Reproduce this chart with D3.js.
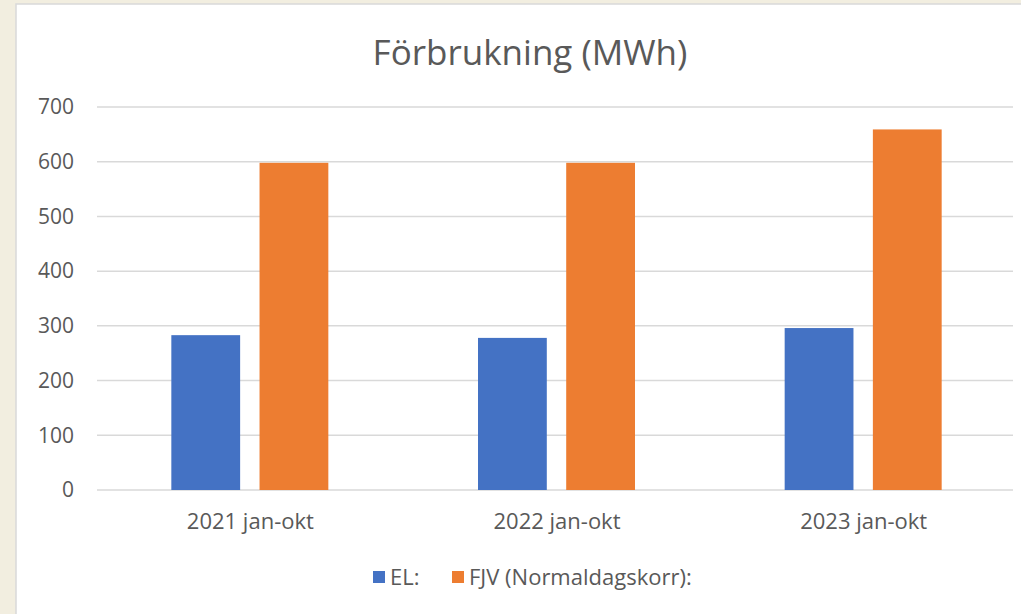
<!DOCTYPE html>
<html>
<head>
<meta charset="utf-8">
<script src="https://cdn.jsdelivr.net/npm/d3@7/dist/d3.min.js"></script>
<style>
  body { margin: 0; background: #f2eee0; }
  svg text { font-family: "Open Sans", "Noto Sans", sans-serif; fill: #595959; }
</style>
</head>
<body>
<svg id="chart" width="1021" height="614"></svg>
<script>
// data
var categories = ["2021 jan-okt", "2022 jan-okt", "2023 jan-okt"];
var seriesNames = ["EL:", "FJV (Normaldagskorr):"];
var elValues = [283, 278, 296];
var fjvValues = [598, 598, 659];
var yTicks = [0, 100, 200, 300, 400, 500, 600, 700];
var colors = ["#4472c4", "#ed7d31"];

var svg = d3.select("#chart");

// chart panel
svg.append("rect")
    .attr("x", 16).attr("y", 4)
    .attr("width", 1010).attr("height", 620)
    .attr("fill", "#fff")
    .attr("stroke", "#d9d9d9")
    .attr("stroke-width", 1.5);

var margin = { left: 97, right: 1017, top: 107, bottom: 490 };

var x = d3.scaleBand()
    .domain(categories)
    .range([margin.left, margin.right]);

var y = d3.scaleLinear()
    .domain([0, 700])
    .range([margin.bottom, margin.top]);

var x1 = d3.scaleBand()
    .domain([0, 1])
    .range([0, 157])
    .paddingInner(0.22);

// gridlines
svg.append("g")
    .selectAll("line")
    .data(yTicks)
    .enter().append("line")
      .attr("x1", margin.left)
      .attr("x2", margin.right - 4)
      .attr("y1", function(d) { return y(d); })
      .attr("y2", function(d) { return y(d); })
      .attr("stroke", "#d9d9d9")
      .attr("stroke-width", 1.5);

// y axis labels
var yAxis = d3.axisLeft(y).tickValues(yTicks).tickSize(0).tickPadding(0);
var gy = svg.append("g")
    .attr("transform", "translate(74,0)")
    .call(yAxis);
gy.select(".domain").remove();
gy.selectAll("text")
    .style("font-size", "21px")
    .attr("fill", "#595959");

// bars
var groups = svg.append("g")
    .selectAll("g")
    .data(categories)
    .enter().append("g")
      .attr("transform", function(d) {
        return "translate(" + (x(d) + x.bandwidth() / 2 - 79) + ",0)";
      });

groups.selectAll("rect")
    .data(function(d, i) { return [elValues[i], fjvValues[i]]; })
    .enter().append("rect")
      .attr("x", function(d, j) { return x1(j); })
      .attr("width", x1.bandwidth())
      .attr("y", function(d) { return y(d); })
      .attr("height", function(d) { return y(0) - y(d); })
      .attr("fill", function(d, j) { return colors[j]; });

// x axis labels
var xAxis = d3.axisBottom(x).tickSize(0).tickPadding(0);
var gx = svg.append("g")
    .attr("transform", "translate(0," + (margin.bottom + 23) + ")")
    .call(xAxis);
gx.select(".domain").remove();
gx.selectAll("text")
    .style("font-size", "22px")
    .attr("fill", "#595959");

// title
svg.append("text")
    .attr("x", 530)
    .attr("y", 65)
    .attr("text-anchor", "middle")
    .style("font-size", "35px")
    .text("Förbrukning (MWh)");

// legend
var legendX = [373, 452];
var legend = svg.append("g")
    .selectAll("g")
    .data(seriesNames)
    .enter().append("g")
      .attr("transform", function(d, i) { return "translate(" + legendX[i] + ",571)"; });

legend.append("rect")
    .attr("width", 12).attr("height", 12)
    .attr("fill", function(d, i) { return colors[i]; });

legend.append("text")
    .attr("x", 17)
    .attr("y", 14)
    .style("font-size", "22px")
    .text(function(d) { return d; });
</script>
</body>
</html>
